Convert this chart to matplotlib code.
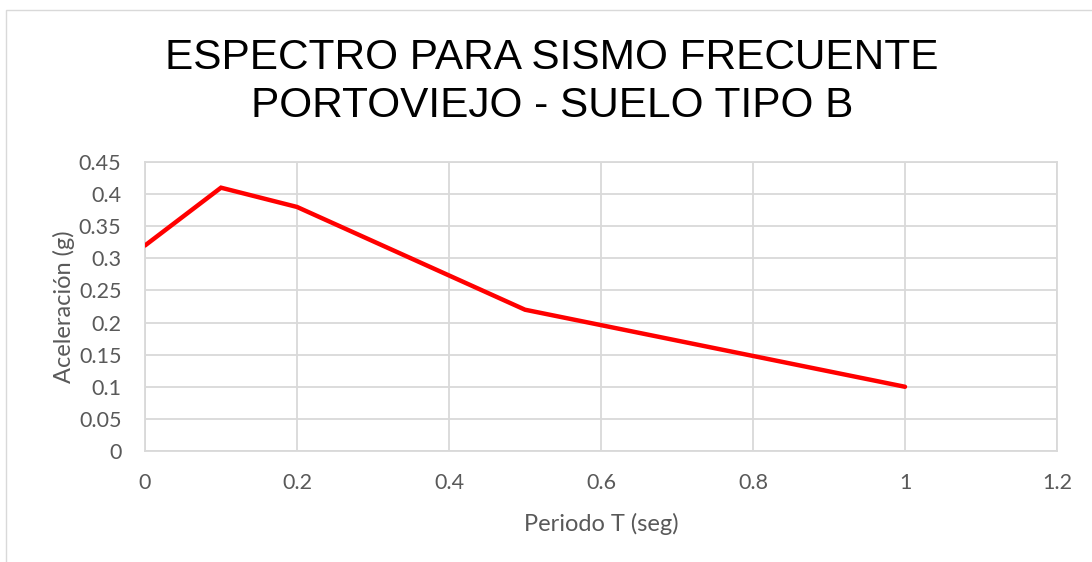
import matplotlib
matplotlib.use("Agg")
import matplotlib.pyplot as plt
from matplotlib.patches import Rectangle

# datos del espectro
periodo = [0.0, 0.1, 0.2, 0.5, 1.0]
aceleracion = [0.32, 0.41, 0.38, 0.22, 0.10]

xticks = [0, 0.2, 0.4, 0.6, 0.8, 1, 1.2]
xticklabels = ["0", "0.2", "0.4", "0.6", "0.8", "1", "1.2"]
yticks = [0, 0.05, 0.1, 0.15, 0.2, 0.25, 0.3, 0.35, 0.4, 0.45]
yticklabels = ["0", "0.05", "0.1", "0.15", "0.2", "0.25", "0.3", "0.35", "0.4", "0.45"]

gris = "#D9D9D9"
texto = "#595959"

fig = plt.figure(figsize=(10.92, 5.62), dpi=100)
fig.patches.append(Rectangle((6 / 1092, -0.1), 1.2, (562 - 10) / 562 + 0.1,
                             transform=fig.transFigure, fill=False,
                             edgecolor=gris, linewidth=1))

ax = fig.add_axes([145 / 1092, 111 / 562, 912 / 1092, 289 / 562])
ax.plot(periodo, aceleracion, color="#FF0000", linewidth=3.2,
        solid_capstyle="round", solid_joinstyle="miter", zorder=3)

ax.set_xlim(0, 1.2)
ax.set_ylim(0, 0.45)
ax.set_xticks(xticks)
ax.set_xticklabels(xticklabels)
ax.set_yticks(yticks)
ax.set_yticklabels(yticklabels)
ax.grid(True, color=gris, linewidth=1.3)
ax.set_axisbelow(True)
for s in ax.spines.values():
    s.set_color(gris)
    s.set_linewidth(1.3)
ax.tick_params(length=0, labelsize=15.5, labelcolor=texto)
ax.tick_params(axis="x", pad=16)
ax.tick_params(axis="y", pad=17)
for lbl in ax.get_xticklabels() + ax.get_yticklabels():
    lbl.set_family("Lato")

ax.set_xlabel("Periodo T (seg)", fontsize=17, color=texto, family="Lato", labelpad=14)
ax.set_ylabel("Aceleración (g)", fontsize=17, color=texto, family="Lato", labelpad=3)

fig.text(552 / 1092, 1 - 82 / 562, "ESPECTRO PARA SISMO FRECUENTE\nPORTOVIEJO - SUELO TIPO B",
         ha="center", va="center", fontsize=30.5, family="Liberation Sans",
         color="black", linespacing=1.28)

fig.savefig("out.png", dpi=100)
